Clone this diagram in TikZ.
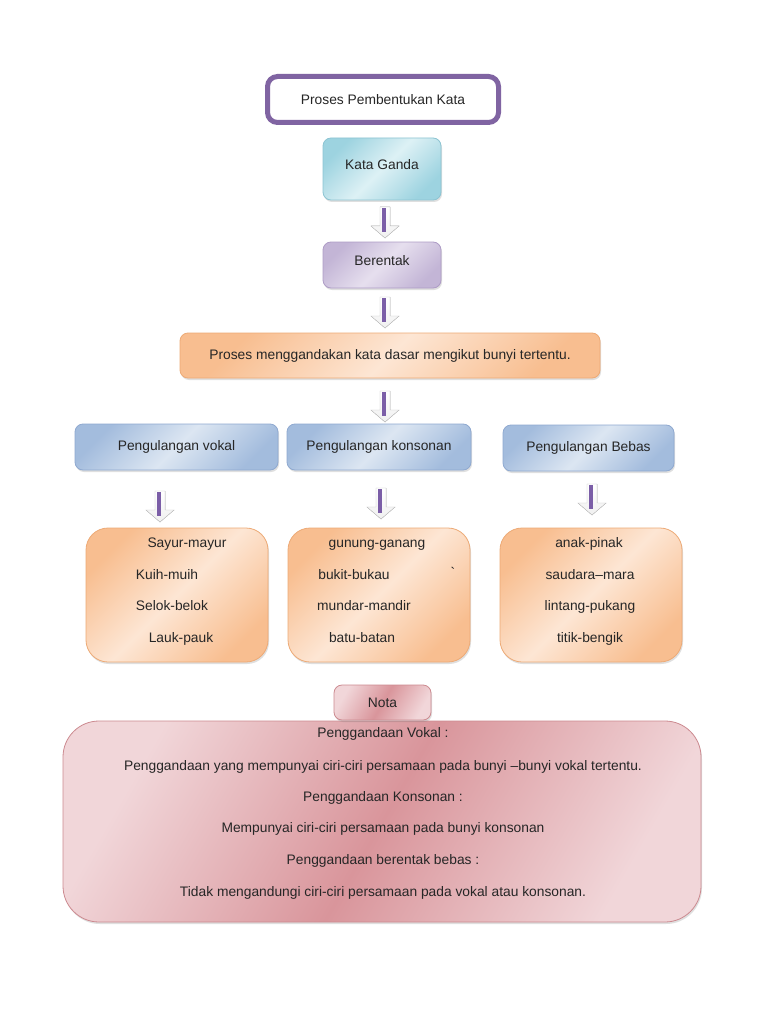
\documentclass[tikz,border=0pt]{standalone}
\usepackage{fontspec}
\setmainfont{Liberation Sans}
\usetikzlibrary{shadows}

\definecolor{textgray}{HTML}{262626}
\definecolor{titlepurple}{HTML}{8064A2}
\definecolor{stripepurple}{HTML}{7B5EA7}
\definecolor{aquadark}{HTML}{9DD3E0}
\definecolor{aqualight}{HTML}{DDF1F5}
\definecolor{aqualine}{HTML}{8CC4D2}
\definecolor{lilacdark}{HTML}{C3B5D6}
\definecolor{lilaclight}{HTML}{E6DFEE}
\definecolor{lilacline}{HTML}{AE9CC6}
\definecolor{orangedark}{HTML}{F8BE90}
\definecolor{orangelight}{HTML}{FDE6D4}
\definecolor{orangeline}{HTML}{EDAA76}
\definecolor{bluedark}{HTML}{A3BCDD}
\definecolor{bluelight}{HTML}{DCE6F2}
\definecolor{blueline}{HTML}{8FA9D0}
\definecolor{pinkdark}{HTML}{D9959B}
\definecolor{pinklight}{HTML}{F1D6D9}
\definecolor{pinkline}{HTML}{CC8A90}

\begin{document}
\begin{tikzpicture}[x=1pt,y=-1pt,
every node/.style={font=\fontsize{13.8}{16}\selectfont,text=textgray},
box/.style={rectangle,rounded corners=8pt,line width=0.8pt,
  drop shadow={shadow xshift=1pt,shadow yshift=-2pt,opacity=0.25}},
aquabox/.style={box,draw=aqualine,left color=aquadark,right color=aquadark,middle color=aqualight,shading angle=45},
lilacbox/.style={box,draw=lilacline,left color=lilacdark,right color=lilacdark,middle color=lilaclight,shading angle=45},
orangebox/.style={box,draw=orangeline,left color=orangedark,right color=orangedark,middle color=orangelight,shading angle=45},
bluebox/.style={box,draw=blueline,left color=bluedark,right color=bluedark,middle color=bluelight,shading angle=45},
pinkbox/.style={box,draw=pinkline,left color=pinklight,right color=pinklight,middle color=pinkdark,shading angle=60},
word/.style={inner sep=0pt,anchor=center,text height=10pt,text depth=3pt},
downarrow/.pic={
  \filldraw[draw=gray!45,top color=white,bottom color=gray!12]
    (-5,0) -- (5,0) -- (5,19) -- (14,19) -- (0,31) -- (-14,19) -- (-5,19) -- cycle;
  \fill[stripepurple] (-3.5,1) rectangle (0.5,25);
}]
\useasboundingbox[fill=white] (0,0) rectangle (768,1024);

% top of the chart
\node[rectangle,draw=titlepurple,line width=5pt,fill=white,rounded corners=10pt,
  minimum width=231pt,minimum height=46pt] (title) at (383,99.5) {Proses Pembentukan Kata};
\node[aquabox,minimum width=118pt,minimum height=62pt,text depth=9pt] (ganda) at (382,169) {Kata Ganda};
\node[lilacbox,minimum width=118pt,minimum height=46pt,text depth=9pt] (berentak) at (382,265) {Berentak};
\node[orangebox,minimum width=420pt,minimum height=45pt] (proses) at (390,355.5)
  {Proses menggandakan kata dasar mengikut bunyi tertentu.};

% three kinds
\node[bluebox,minimum width=203pt,minimum height=46pt] (vokal) at (176.5,447) {Pengulangan vokal};
\node[bluebox,minimum width=184pt,minimum height=46pt] (konsonan) at (379,447) {Pengulangan konsonan};
\node[bluebox,minimum width=171pt,minimum height=46pt] (bebas) at (588.5,448) {Pengulangan Bebas};

% examples
\node[orangebox,minimum width=182pt,minimum height=134pt,rounded corners=22pt] (exvokal) at (177,595) {};
\node[orangebox,minimum width=182pt,minimum height=134pt,rounded corners=22pt] (exkonsonan) at (379,595) {};
\node[orangebox,minimum width=182pt,minimum height=134pt,rounded corners=22pt] (exbebas) at (591,595) {};

\node[word] (v1) at (187,544) {Sayur-mayur};
\node[word] (v2) at (167,576) {Kuih-muih};
\node[word] (v3) at (172,607) {Selok-belok};
\node[word] (v4) at (181,639) {Lauk-pauk};

\node[word] (k1) at (377,544) {gunung-ganang};
\node[word] (k2) at (354,576) {bukit-bukau};
\node[word] (k3) at (364,607) {mundar-mandir};
\node[word] (k4) at (362,639) {batu-batan};
\node[word] (tick) at (453,574) {\textasciigrave};

\node[word] (b1) at (589,544) {anak-pinak};
\node[word] (b2) at (590,576) {saudara--mara};
\node[word] (b3) at (590,607) {lintang-pukang};
\node[word] (b4) at (590,639) {titik-bengik};

% notes
\node[pinkbox,minimum width=638pt,minimum height=201pt,rounded corners=36pt] (notes) at (382,821.5) {};
\node[pinkbox,minimum width=97pt,minimum height=35pt] (nota) at (382.5,702.5) {Nota};

\node[word] (n1) at (383,734) {Penggandaan Vokal :};
\node[word] (n2) at (383,767) {Penggandaan yang mempunyai ciri-ciri persamaan pada bunyi --bunyi vokal tertentu.};
\node[word] (n3) at (383,798) {Penggandaan Konsonan :};
\node[word] (n4) at (383,829) {Mempunyai ciri-ciri persamaan pada bunyi konsonan};
\node[word] (n5) at (383,861) {Penggandaan berentak bebas :};
\node[word] (n6) at (383,893) {Tidak mengandungi ciri-ciri persamaan pada vokal atau konsonan.};

% arrows
\pic at (385,207) {downarrow};
\pic at (385,297) {downarrow};
\pic at (385,391) {downarrow};
\pic at (160,491) {downarrow};
\pic at (381,488) {downarrow};
\pic at (592,484) {downarrow};
\end{tikzpicture}
\end{document}
